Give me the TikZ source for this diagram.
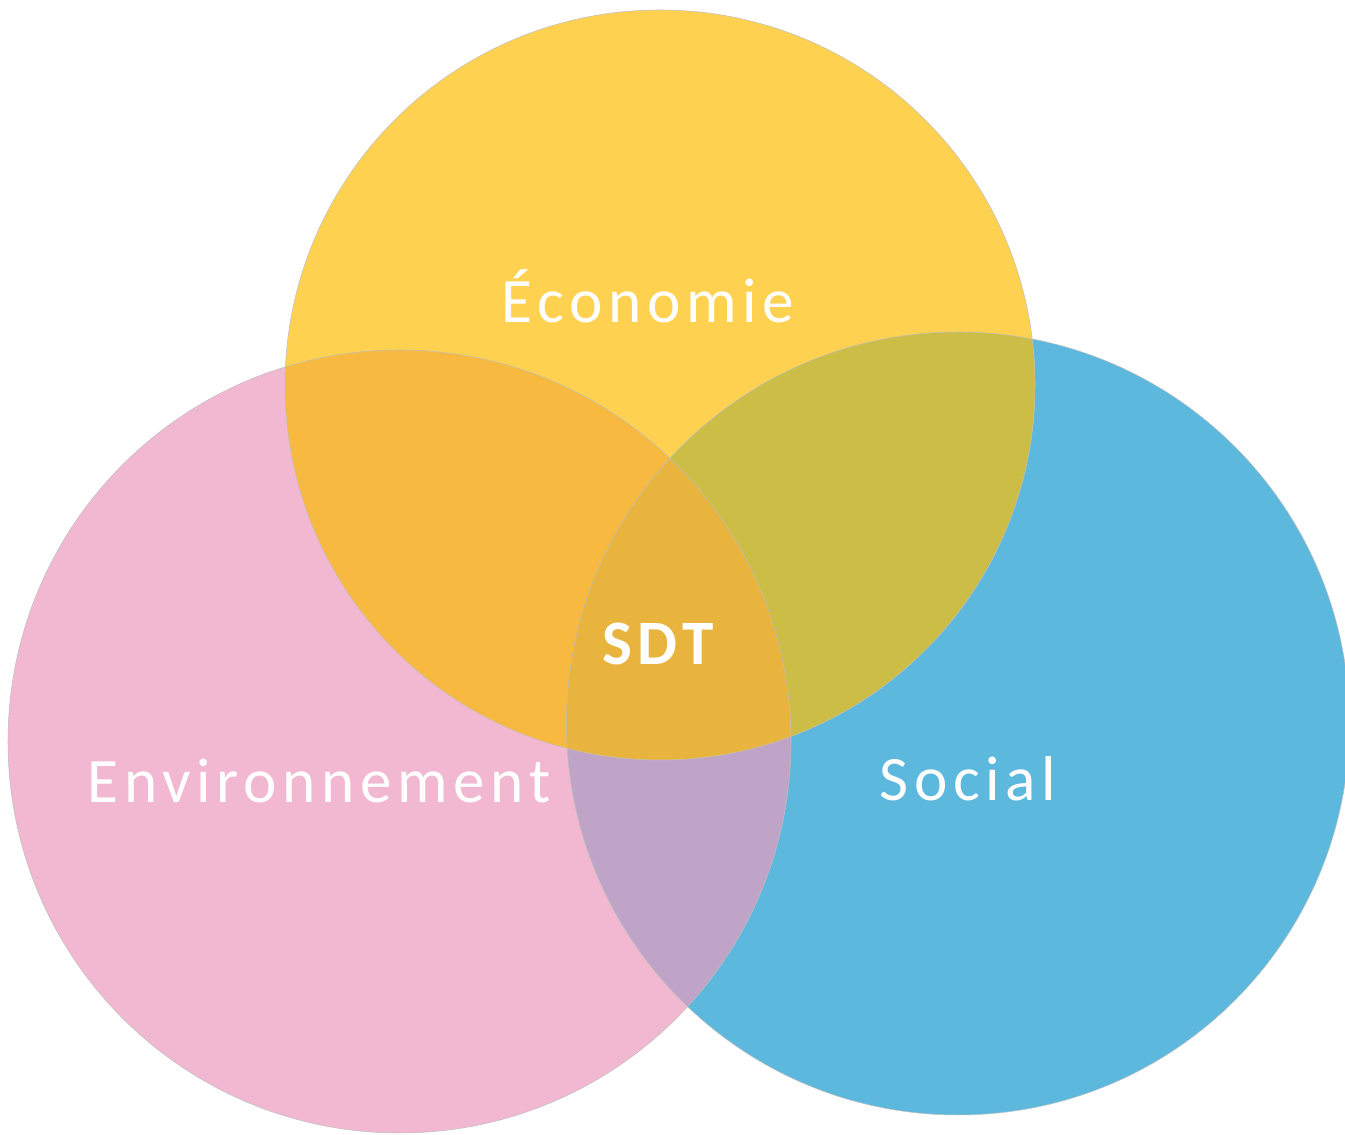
\documentclass[tikz,border=0pt]{standalone}
\usepackage{fontspec}
\setmainfont{Carlito}
\newfontfamily\vennfont[LetterSpace=9]{Carlito}
\definecolor{ecoYellow}{HTML}{FED250}
\definecolor{envPink}{HTML}{F2B8D2}
\definecolor{socBlue}{HTML}{5DB8DE}
\definecolor{ecoEnv}{HTML}{F7B940}
\definecolor{ecoSoc}{HTML}{CBBD45}
\definecolor{envSoc}{HTML}{BFA4C8}
\definecolor{allThree}{HTML}{E8B43E}
\tikzset{
  label text/.style={text=white, font=\vennfont\fontsize{18}{22}\selectfont, anchor=base, inner sep=0pt},
  rim/.style={draw=black!25, line width=0.15pt}
}
\begin{document}
\begin{tikzpicture}[x=1cm,y=1cm]
  \useasboundingbox (0,0) rectangle (13.45,11.35);
  \coordinate (eco) at (6.60,7.50);
  \coordinate (env) at (3.995,3.935);
  \coordinate (soc) at (9.58,4.115);
  %
  \fill[envPink] (env) circle (3.915);
  \fill[socBlue] (soc) circle (3.915);
  \fill[ecoYellow] (eco) circle (3.75);
  %
  \begin{scope} \clip (env) circle (3.915); \fill[envSoc] (soc) circle (3.915); \end{scope}
  \begin{scope} \clip (eco) circle (3.75); \fill[ecoEnv] (env) circle (3.915); \end{scope}
  \begin{scope} \clip (eco) circle (3.75); \fill[ecoSoc] (soc) circle (3.915); \end{scope}
  \begin{scope} \clip (eco) circle (3.75); \clip (env) circle (3.915); \fill[allThree] (soc) circle (3.915); \end{scope}
  %
  \begin{scope}
    \clip (0,0) rectangle (13.45,11.35);
    \draw[rim] (env) circle (3.915);
    \draw[rim] (soc) circle (3.915);
    \draw[rim] (eco) circle (3.75);
  \end{scope}
  %
  \node[label text] (econ) at (6.48,8.12) {Économie};
  \node[label text] (envir) at (3.19,3.32) {Environnement};
  \node[label text] (soc) at (9.68,3.34) {Social};
  \node[label text, font=\vennfont\bfseries\fontsize{18}{22}\selectfont] (sdt) at (6.58,4.70) {SDT};
\end{tikzpicture}
\end{document}
